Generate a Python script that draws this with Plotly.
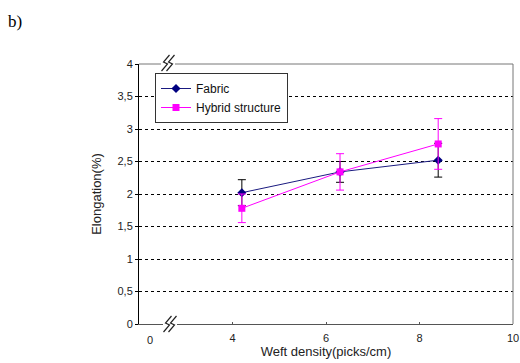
import plotly.graph_objects as go

weft_density = [4.2, 6.3, 8.4]
fabric = [2.02, 2.34, 2.52]
fabric_err = [0.20, 0.16, 0.26]
hybrid = [1.78, 2.34, 2.77]
hybrid_err = [0.22, 0.28, 0.39]
y_ticks = [0, 0.5, 1, 1.5, 2, 2.5, 3, 3.5, 4]
y_ticktext = ["0", "0,5", "1", "1,5", "2", "2,5", "3", "3,5", "4"]
x_ticks = [4, 6, 8, 10]
x_ticktext = ["4", "6", "8", "10"]

font = "Liberation Sans, Arial, sans-serif"
PW, PH = 374.0, 260.0  # plot area size in px

fig = go.Figure()
fig.add_trace(go.Scatter(
    x=weft_density, y=fabric, name="Fabric", mode="lines+markers",
    line=dict(color="#1a1a80", width=1),
    marker=dict(symbol="diamond", size=7, color="#000080"),
    error_y=dict(type="data", array=fabric_err, color="#000000", thickness=1, width=4),
))
fig.add_trace(go.Scatter(
    x=weft_density, y=hybrid, name="Hybrid structure", mode="lines+markers",
    line=dict(color="#ff00ff", width=1),
    marker=dict(symbol="square", size=7, color="#ff00ff"),
    error_y=dict(type="data", array=hybrid_err, color="#ff00ff", thickness=1, width=4),
))

fig.update_layout(
    width=520, height=363,
    margin=dict(l=139, r=7, t=64, b=39, autoexpand=False),
    paper_bgcolor="white", plot_bgcolor="white",
    font=dict(family=font, size=11, color="#222"),
    showlegend=True,
    legend=dict(
        x=16/PW, y=1 - 9/PH, xanchor="left", yanchor="top",
        bgcolor="white", bordercolor="#333", borderwidth=1,
        font=dict(family=font, size=12, color="#111"),
        itemwidth=30, tracegroupgap=0,
    ),
    xaxis=dict(
        range=[2, 10], tickvals=x_ticks, ticktext=x_ticktext,
        showgrid=False, zeroline=False, automargin=False,
        showline=True, linecolor="#555", linewidth=1,
        ticks="inside", ticklen=2, tickcolor="#555",
        ticklabelstandoff=4,
        title=dict(text="Weft density(picks/cm)", font=dict(family=font, size=13, color="#222"), standoff=2),
    ),
    yaxis=dict(
        range=[0, 4], tickvals=y_ticks, ticktext=y_ticktext,
        showgrid=True, gridcolor="#000", gridwidth=1, griddash="3px,3px",
        zeroline=False, automargin=False,
        showline=True, linecolor="#000", linewidth=1,
        ticks="outside", ticklen=3, tickcolor="#000",
        title=dict(text="Elongation(%)", font=dict(family=font, size=13, color="#222"), standoff=12),
    ),
)

# "0" label at the broken-axis origin
fig.add_annotation(x=6/PW, y=-8/PH, xref="paper", yref="paper", text="0",
                   showarrow=False, yanchor="top", font=dict(family=font, size=11, color="#222"))
# top and right borders
fig.add_shape(type="line", xref="paper", yref="paper", x0=0, x1=1, y0=1, y1=1,
              line=dict(color="#777", width=1))
fig.add_shape(type="line", xref="paper", yref="paper", x0=1, x1=1, y0=0, y1=1,
              line=dict(color="#777", width=1))

# axis break symbols
def break_mark(cx, cy):
    dx = 1 / PW
    dy = 1 / PH
    for off in (-2.5, 2.5):
        x = cx + off * dx
        path = (f"M {x + 4*dx} {cy + 8*dy} L {x - 2*dx} {cy + 1*dy} "
                f"L {x + 2*dx} {cy - 1*dy} L {x - 4*dx} {cy - 8*dy}")
        fig.add_shape(type="path", xref="paper", yref="paper", path=path,
                      line=dict(color="#222", width=1.2))

for cxp, cyp in ((170 - 139, 0), (168 - 139, 1 + 1/PH)):
    cx = cxp / PW
    fig.add_shape(type="rect", xref="paper", yref="paper",
                  x0=cx - 7/PW, x1=cx + 7/PW, y0=round(cyp) - 2/PH, y1=round(cyp) + 2/PH,
                  fillcolor="white", line=dict(width=0))
    break_mark(cx, cyp)

fig.add_annotation(x=(6 - 139)/PW, y=1 + (64 - 22)/PH, xref="paper", yref="paper", text="b)",
                   showarrow=False, xanchor="left", yanchor="middle",
                   font=dict(family="Liberation Serif, Times New Roman, serif", size=17, color="#000"))

fig.write_html("out.html", config={"displayModeBar": False},
               post_script="document.body.style.margin='0';")
